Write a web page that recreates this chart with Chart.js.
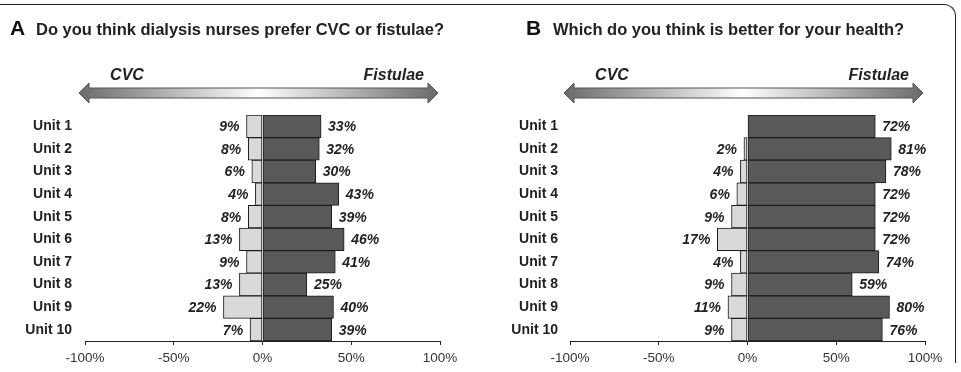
<!DOCTYPE html>
<html>
<head>
<meta charset="utf-8">
<script src="https://cdn.jsdelivr.net/npm/chart.js@4.4.0/dist/chart.umd.min.js"></script>
<style>
  body { margin: 0; background: #fff; }
  #wrap { position: relative; width: 961px; height: 372px; overflow: hidden; }
  .panel { position: absolute; top: 0; width: 480px; height: 372px; }
  #frame { position: absolute; left: -20px; top: 4px; width: 975px; height: 358px;
           border-top: 1.5px solid #222; border-right: 1.5px solid #222; border-top-right-radius: 12px; }
</style>
</head>
<body>
<div id="wrap">
  <div id="frame"></div>
  <div class="panel" style="left:0"><canvas id="chartA" width="480" height="372"></canvas></div>
  <div class="panel" style="left:480px"><canvas id="chartB" width="480" height="372"></canvas></div>
</div>
<script>
const units = ['Unit 1', 'Unit 2', 'Unit 3', 'Unit 4', 'Unit 5', 'Unit 6', 'Unit 7', 'Unit 8', 'Unit 9', 'Unit 10'];
// panel A: do you think dialysis nurses prefer CVC or fistulae?
const cvcA = [9, 8, 6, 4, 8, 13, 9, 13, 22, 7];
const fistulaeA = [33, 32, 30, 43, 39, 46, 41, 25, 40, 39];
// panel B: which do you think is better for your health?
const cvcB = [0, 2, 4, 6, 9, 17, 4, 9, 11, 9];
const fistulaeB = [72, 81, 78, 72, 72, 72, 74, 59, 80, 76];
const xTicks = [-100, -50, 0, 50, 100];

const FONT = "'Liberation Sans', Arial, sans-serif";

// draws the panel title, the CVC <-> Fistulae arrow and the % labels
const decorPlugin = {
    id: 'decor',
    afterDraw(chart, args, opts) {
        const ctx = chart.ctx;
        const area = chart.chartArea;
        ctx.save();

        // title
        ctx.fillStyle = '#111';
        ctx.textBaseline = 'alphabetic';
        ctx.textAlign = 'left';
        ctx.font = 'bold 21px ' + FONT;
        ctx.fillText(opts.letter, opts.letterX, 35);
        ctx.font = 'bold 16.5px ' + FONT;
        ctx.fillStyle = '#222';
        ctx.fillText(opts.title, opts.titleX, 35);

        // arrow
        const x0 = area.left - 6, x1 = area.right - 2, yc = 93;
        const sh = 5, hh = 10, hl = 10;
        const grad = ctx.createLinearGradient(x0, 0, x1, 0);
        grad.addColorStop(0, '#6a6a6a');
        grad.addColorStop(0.5, '#ffffff');
        grad.addColorStop(1, '#6a6a6a');
        ctx.beginPath();
        ctx.moveTo(x0, yc);
        ctx.lineTo(x0 + hl, yc - hh);
        ctx.lineTo(x0 + hl, yc - sh);
        ctx.lineTo(x1 - hl, yc - sh);
        ctx.lineTo(x1 - hl, yc - hh);
        ctx.lineTo(x1, yc);
        ctx.lineTo(x1 - hl, yc + hh);
        ctx.lineTo(x1 - hl, yc + sh);
        ctx.lineTo(x0 + hl, yc + sh);
        ctx.lineTo(x0 + hl, yc + hh);
        ctx.closePath();
        ctx.fillStyle = grad;
        ctx.fill();
        ctx.strokeStyle = '#555';
        ctx.lineWidth = 1;
        ctx.stroke();

        ctx.font = 'italic bold 16px ' + FONT;
        ctx.fillStyle = '#222';
        ctx.textBaseline = 'middle';
        ctx.textAlign = 'center';
        ctx.fillText('CVC', area.left + 42, 76);
        ctx.textAlign = 'right';
        ctx.fillText('Fistulae', area.right - 16, 76);

        // value labels
        ctx.font = 'italic bold 14px ' + FONT;
        ctx.fillStyle = '#222';
        chart.data.datasets.forEach((ds, i) => {
            const meta = chart.getDatasetMeta(i);
            meta.data.forEach((bar, j) => {
                const v = ds.data[j];
                if (!v) return;
                if (v < 0) {
                    ctx.textAlign = 'right';
                    ctx.fillText(Math.abs(v) + '%', bar.x - 7, bar.y + 1);
                } else {
                    ctx.textAlign = 'left';
                    ctx.fillText(v + '%', bar.x + 7, bar.y + 1);
                }
            });
        });
        ctx.restore();
    }
};

function makeChart(id, cvc, fistulae, cfg) {
    return new Chart(document.getElementById(id), {
        type: 'bar',
        data: {
            labels: units,
            datasets: [{
                label: 'CVC',
                data: cvc.map(v => -v),
                backgroundColor: '#d9d9d9',
                borderColor: '#1a1a1a',
                borderWidth: 1,
                borderSkipped: false,
                barPercentage: 1,
                categoryPercentage: 1
            }, {
                label: 'Fistulae',
                data: fistulae,
                backgroundColor: '#595959',
                borderColor: '#1a1a1a',
                borderWidth: 1,
                borderSkipped: false,
                barPercentage: 1,
                categoryPercentage: 1
            }]
        },
        options: {
            indexAxis: 'y',
            responsive: false,
            animation: false,
            layout: { padding: { top: 115, right: cfg.right, left: 0, bottom: 0 } },
            plugins: {
                legend: { display: false },
                tooltip: { enabled: false },
                decor: cfg
            },
            scales: {
                x: {
                    stacked: true,
                    min: -100,
                    max: 100,
                    afterBuildTicks: (s) => { s.ticks = xTicks.map(v => ({ value: v })); },
                    grid: { drawOnChartArea: false, drawTicks: true, tickLength: 4, color: '#222' },
                    border: { display: true, color: '#222', width: 1 },
                    ticks: {
                        padding: 5,
                        color: '#333',
                        font: { family: FONT, size: 13.5 },
                        callback: (v) => v + '%'
                    },
                    afterFit: (s) => { s.height = 31; }
                },
                y: {
                    stacked: true,
                    grid: { display: false, drawTicks: false },
                    border: { display: false },
                    ticks: {
                        padding: cfg.labelPad,
                        color: '#222',
                        font: { family: FONT, size: 14, weight: 'bold' }
                    },
                    afterFit: (s) => { s.width = cfg.axisW; }
                }
            }
        },
        plugins: [decorPlugin]
    });
}

makeChart('chartA', cvcA, fistulaeA, {
    letter: 'A', letterX: 10,
    title: 'Do you think dialysis nurses prefer CVC or fistulae?', titleX: 36,
    right: 40, axisW: 85, labelPad: 13
});
makeChart('chartB', cvcB, fistulaeB, {
    letter: 'B', letterX: 46,
    title: 'Which do you think is better for your health?', titleX: 73,
    right: 35, axisW: 90, labelPad: 12
});
</script>
</body>
</html>
